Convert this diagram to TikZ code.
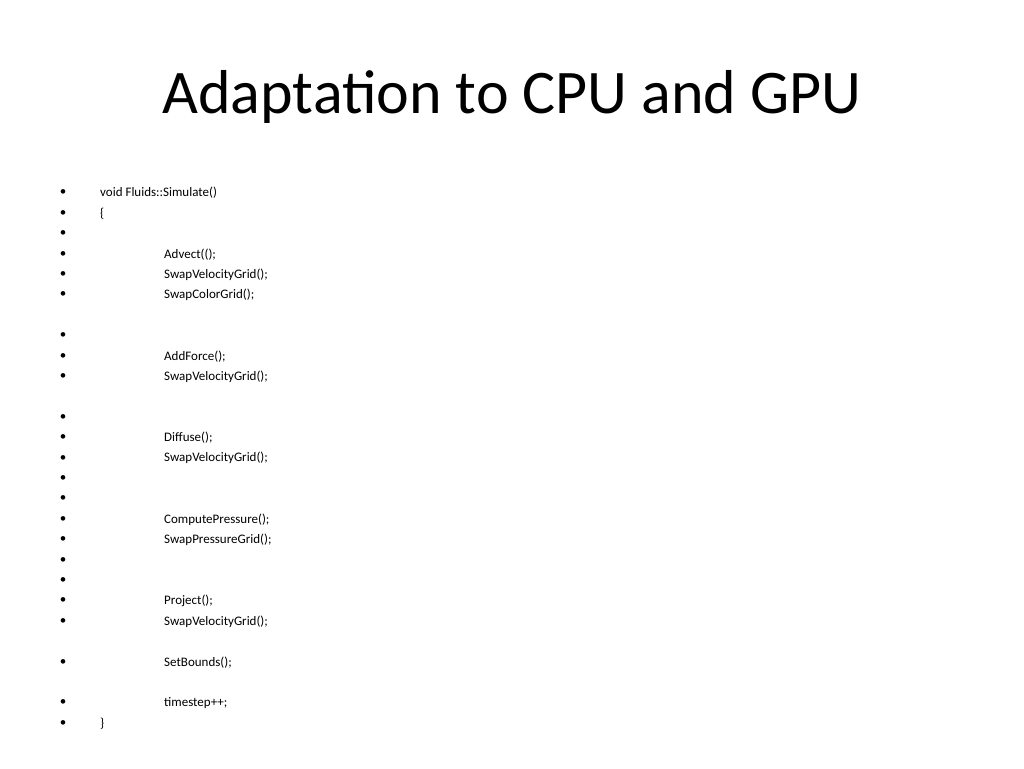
\documentclass[tikz,border=0pt]{standalone}
\usepackage{fontspec}
\setmainfont{Carlito}
\begin{document}
\begin{tikzpicture}[x=1pt,y=-1pt,
  code/.style={anchor=west,inner sep=0pt,font=\fontsize{13}{15}\selectfont},
  bul/.style={anchor=center,inner sep=0pt,font=\fontsize{13}{15}\selectfont}]
\useasboundingbox (0,0) rectangle (1024,768);
\node[inner sep=0pt,font=\fontsize{62}{70}\selectfont] (title) at (512,97) {Adaptation to CPU and GPU};
\foreach \i/\x/\t [count=\n] in {0/100/void Fluids::Simulate(), 1/100/\{, 2/164///Advect, 3/164/Advect((); , 4/164/SwapVelocityGrid();, 5/164/SwapColorGrid();,
 7/164///Add force, 8/164/AddForce();, 9/164/SwapVelocityGrid();,
 11/164///Diffuse, 12/164/Diffuse();, 13/164/SwapVelocityGrid();, 14/164/{},
 15/164///Compute Pressure, 16/164/ComputePressure();, 17/164/SwapPressureGrid();, 18/164/{},
 19/164///Project, 20/164/Project();, 21/164/SwapVelocityGrid();,
 23/164/SetBounds();, 25/164/timestep++;, 26/100/\}}{
  \node[bul] (b\n) at (63,{193+20.4*\i}) {•};
  \node[code] (t\n) at (\x,{193+20.4*\i}) {\t};
}
\end{tikzpicture}
\end{document}
